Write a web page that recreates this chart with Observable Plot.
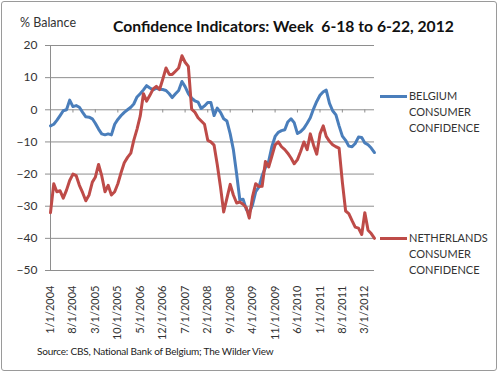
<!DOCTYPE html>
<html>
<head>
<meta charset="utf-8">
<script src="https://cdn.jsdelivr.net/npm/d3@7"></script>
<script src="https://cdn.jsdelivr.net/npm/@observablehq/plot@0.6"></script>
<style>
html, body { margin: 0; padding: 0; background: #fff; }
#wrap { position: relative; width: 500px; height: 374px; overflow: hidden; font-family: Lato, "Open Sans", sans-serif; color: #222; }
#frame { position: absolute; left: 1px; top: 1px; width: 494px; height: 368px; border: 1px solid #9a9a9a; border-radius: 3px; box-sizing: content-box; }
#chart { position: absolute; left: 0; top: 0; }
.lbl { position: absolute; white-space: pre; line-height: 1; }
#ylabel { left: 20px; top: 17px; font-size: 12.5px; color: #333; }
#title { left: 113px; top: 19px; font-size: 15.7px; font-weight: bold; color: #111; }
#source { left: 37px; top: 346px; font-size: 10px; letter-spacing: -0.2px; color: #222; }
.leg { position: absolute; left: 380px; width: 118px; }
.leg .sw { position: absolute; left: 0; width: 27px; height: 3px; }
.leg .tx { position: absolute; left: 29px; font-size: 11px; line-height: 16px; color: #333; white-space: pre; }
</style>
</head>
<body>
<div id="wrap">
  <div id="frame"></div>
  <div id="chart"></div>
  <div class="lbl" id="ylabel"></div>
  <div class="lbl" id="title"></div>
  <div class="lbl" id="source"></div>
  <div id="legend"></div>
</div>
<script>
// ---- data (monthly, Jan 2004 – Jun 2012) ----
const seriesNames = ["Belgium", "Netherlands"];
const legendLabels = ["BELGIUM\nCONSUMER\nCONFIDENCE", "NETHERLANDS\nCONSUMER\nCONFIDENCE"];
const seriesColors = ["#4A7EBB", "#BE4B48"];

const belgium = [
  -5.0, -4.5, -3.3, -1.8, -0.3, 0.0, 3.0, 1.0, 1.3, 0.8,
  -0.8, -2.2, -2.3, -2.8, -4.2, -6.0, -7.5, -7.8, -7.5, -7.8,
  -4.5, -3.0, -1.8, -0.8, 0.0, 0.8, 1.8, 4.0, 5.0, 6.2,
  7.5, 6.8, 6.2, 6.7, 6.4, 6.3, 6.0, 5.0, 3.8, 5.0,
  6.0, 8.8, 7.2, 5.0, 3.6, 2.8, 2.4, 0.4, 1.2, 2.3,
  2.3, -1.8, 0.5, -0.8, -2.8, -3.5, -7.5, -12.4, -20.0, -28.0,
  -27.8, -31.0, -32.0, -29.5, -25.5, -24.0, -20.5, -18.0, -16.0, -11.5,
  -8.3, -7.0, -6.5, -6.2, -3.8, -2.8, -4.0, -7.4, -6.8, -5.8,
  -4.2, -2.5, 0.3, 2.6, 4.5, 5.6, 6.1, 2.0, -0.3, -1.6,
  -5.0, -8.2, -9.5, -11.3, -11.5, -10.5, -8.5, -8.6, -10.3, -10.9,
  -11.9, -13.3
];
const netherlands = [
  -32.0, -23.0, -25.5, -25.2, -27.5, -25.0, -22.0, -20.0, -20.5, -23.5,
  -25.8, -28.3, -26.5, -22.5, -21.0, -17.0, -20.5, -25.5, -23.5, -26.5,
  -25.5, -23.0, -19.5, -16.5, -14.8, -13.5, -9.5, -6.0, -2.0, 5.0,
  2.7, 4.5, 6.5, 7.3, 6.3, 9.5, 13.0, 11.0, 11.0, 12.0,
  13.0, 16.8, 14.8, 13.5, 0.2, -0.7, -2.5, -3.5, -4.5, -9.5,
  -10.0, -11.0, -17.0, -24.0, -31.8, -27.5, -23.2, -26.5, -29.0, -28.7,
  -29.4, -30.5, -33.7, -27.0, -23.0, -23.9, -23.8, -16.1, -17.8, -14.5,
  -10.9, -10.0, -11.5, -12.4, -13.5, -15.0, -16.8, -15.5, -13.0, -10.0,
  -12.4, -7.5, -11.0, -13.8, -7.5, -5.0, -8.3, -9.8, -10.9, -11.5,
  -11.9, -22.5, -31.5, -32.3, -34.5, -36.5, -36.8, -38.8, -32.0, -37.5,
  -38.5, -40.0
];
const yTicks = [20, 10, 0, -10, -20, -30, -40, -50];
const xTickLabels = ["1/1/2004", "8/1/2004", "3/1/2005", "10/1/2005", "5/1/2006", "12/1/2006", "7/1/2007",
  "2/1/2008", "9/1/2008", "4/1/2009", "11/1/2009", "6/1/2010", "1/1/2011", "8/1/2011", "3/1/2012"];
const titleText = "Confidence Indicators: Week  6-18 to 6-22, 2012";
const yLabelText = "% Balance";
const sourceText = "Source: CBS, National Bank of Belgium; The Wilder View";

// ---- build ----
const dates = d3.utcMonth.range(new Date(Date.UTC(2004, 0, 1)), new Date(Date.UTC(2012, 6, 1)));
const rows = [];
dates.forEach((d, i) => {
  rows.push({date: d, value: belgium[i], series: seriesNames[0]});
  rows.push({date: d, value: netherlands[i], series: seriesNames[1]});
});
const parseMDY = s => { const [m, d, y] = s.split("/").map(Number); return new Date(Date.UTC(y, m - 1, d)); };
const tickDates = xTickLabels.map(parseMDY);
const fmt = d => `${d.getUTCMonth() + 1}/${d.getUTCDate()}/${d.getUTCFullYear()}`;
const grid = "#8e8e8e";

const chart = Plot.plot({
  width: 500, height: 374,
  marginLeft: 50, marginRight: 126, marginTop: 45, marginBottom: 104,
  style: {fontFamily: "Lato, 'Open Sans', sans-serif", background: "transparent", overflow: "visible"},
  x: {type: "utc", domain: [dates[0], dates[dates.length - 1]]},
  y: {domain: [-50, 20]},
  color: {domain: seriesNames, range: seriesColors},
  marks: [
    Plot.ruleY(yTicks, {stroke: grid, strokeWidth: 1}),
    Plot.ruleX([dates[0]], {stroke: grid, strokeWidth: 1}),
    Plot.ruleX(tickDates, {y1: 0, y2: -1, stroke: grid, strokeWidth: 1}),
    Plot.axisY({ticks: yTicks, tickSize: 5, tickPadding: 8, stroke: grid, fill: "#333", fontSize: 12, label: null}),
    Plot.axisX({ticks: tickDates, tickSize: 0, tickPadding: 15, tickRotate: -90, tickFormat: fmt, fill: "#333", fontSize: 11, label: null}),
    Plot.line(rows, {x: "date", y: "value", z: "series", stroke: "series", strokeWidth: 3, strokeLinejoin: "round", strokeLinecap: "round"})
  ]
});
document.getElementById("chart").appendChild(chart);
document.getElementById("title").textContent = titleText;
document.getElementById("ylabel").textContent = yLabelText;
document.getElementById("source").textContent = sourceText;

const legendTops = [96, 238];
const legend = document.getElementById("legend");
seriesNames.forEach((name, i) => {
  const g = document.createElement("div");
  g.className = "leg";
  g.style.top = legendTops[i] + "px";
  const sw = document.createElement("div");
  sw.className = "sw";
  sw.style.background = seriesColors[i];
  sw.style.top = "-1.5px";
  const tx = document.createElement("div");
  tx.className = "tx";
  tx.style.top = "-8px";
  tx.textContent = legendLabels[i];
  g.appendChild(sw); g.appendChild(tx);
  legend.appendChild(g);
});
</script>
</body>
</html>
